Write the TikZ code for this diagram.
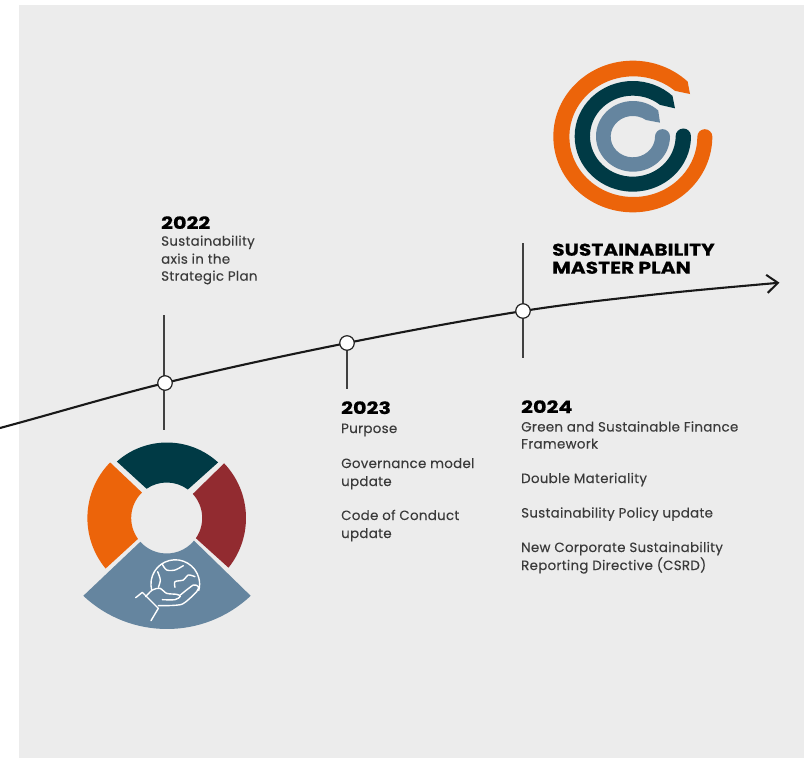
\documentclass[tikz,border=0pt]{standalone}
\usepackage{fontspec}
\setmainfont{Poppins}
\newfontfamily\bodyface{Poppins}[LetterSpace=2.2,FakeBold=0.12]
\newfontfamily\yearface{Poppins Bold}[FakeStretch=1.22,FakeBold=0.4]
\newfontfamily\headface{Poppins Bold}[FakeStretch=1.19,FakeBold=0.4]
\usetikzlibrary{arrows.meta}
\definecolor{bgc}{HTML}{ECECEC}
\definecolor{dk}{HTML}{003A45}
\definecolor{org}{HTML}{EC640A}
\definecolor{rd}{HTML}{922B30}
\definecolor{bl}{HTML}{65859F}
\definecolor{txt}{HTML}{3A3A3A}
\tikzset{
  body/.style={anchor=base west,inner sep=0pt,text=txt,font=\bodyface\fontsize{13.4}{16}\selectfont},
  yearlab/.style={anchor=base west,inner sep=0pt,text=black,font=\yearface\fontsize{17}{20}\selectfont},
  headlab/.style={anchor=base west,inner sep=0pt,text=black,font=\headface\fontsize{17}{20}\selectfont},
  milestone/.style={circle,draw=black!85,fill=white,line width=1.2pt,minimum size=14.5pt,inner sep=0pt},
  tick/.style={draw=black!75,line width=1.1pt},
  icon/.style={draw=white,line width=1.4pt,line cap=round,line join=round}
}
\newcommand{\ringwedge}[8]{%
  \fill[#1] ({#2+#4*cos(#5)},{#3+#4*sin(#5)}) arc[start angle=#5,end angle=#6,radius=#4]
    -- ({166.7+35.5*cos(#7)},{518+35.5*sin(#7)}) arc[start angle=#7,end angle=#8,radius=35.5] -- cycle;}
\begin{document}
\begin{tikzpicture}[x=1pt,y=1pt,yscale=-1]
\useasboundingbox (0,0) rectangle (807,764);
\fill[white] (0,0) rectangle (807,764);
\fill[bgc] (19,5) rectangle (804,758);

% timeline
\coordinate (start) at (0,428);
\coordinate (p22) at (165,383);
\coordinate (p23) at (347,343);
\coordinate (p24) at (523,311);
\coordinate (via) at (650,295);
\coordinate (tip) at (779.5,282.7);
\coordinate (t22a) at (164,315); \coordinate (t22b) at (164,430);
\coordinate (t23b) at (347,389);
\coordinate (t24a) at (523,243); \coordinate (t24b) at (523,358);
\draw[tick] (t22a) -- (t22b);
\draw[tick] (p23) -- (t23b);
\draw[tick] (t24a) -- (t24b);
\draw[black!90,line width=2.1pt,-{Straight Barb[length=11pt,width=18pt,line width=2pt]}]
  (start) .. controls (55,413.2) and (110,396.5) .. (p22)
  .. controls (225.7,368.1) and (286.3,355.2) .. (p23)
  .. controls (405.7,331.2) and (464.3,320.3) .. (p24)
  .. controls (565.3,304.3) and (607.7,299.65) .. (via)
  .. controls (693.2,290.25) and (736.3,286.6) .. (tip);
\node[milestone] (m22) at (p22) {};
\node[milestone] (m23) at (p23) {};
\node[milestone] (m24) at (p24) {};

% texts
\node[yearlab] (y22) at (161,229) {2022};
\node[body] (a1) at (161,245.7) {Sustainability};
\node[body] (a2) at (161,263.7) {axis in the};
\node[body] (a3) at (161,280.7) {Strategic Plan};

\node[yearlab] (y23) at (341,414) {2023};
\node[body] (b1) at (341,433) {Purpose};
\node[body] (b2) at (341,468) {Governance model};
\node[body] (b3) at (341,486) {update};
\node[body] (b4) at (341,520) {Code of Conduct};
\node[body] (b5) at (341,538) {update};

\node[yearlab] (y24) at (521,413) {2024};
\node[body] (c1) at (521,431.5) {Green and Sustainable Finance};
\node[body] (c2) at (521,448.5) {Framework};
\node[body] (c3) at (521,483) {Double Materiality};
\node[body] (c4) at (521,517.5) {Sustainability Policy update};
\node[body] (c5) at (521,552) {New Corporate Sustainability};
\node[body] (c6) at (521,570) {Reporting Directive (CSRD)};

\node[headlab] (h1) at (552,255.7) {SUSTAINABILITY};
\node[headlab] (h2) at (552,273.7) {MASTER PLAN};

% wheel
\ringwedge{dk}{167}{518}{75.5}{-131.6}{-47.4}{-53.4}{-124.5}
\ringwedge{org}{166.7}{518}{79.3}{224.5}{140.4}{144}{225.8}
\ringwedge{rd}{166.7}{518}{79.3}{-43.6}{38.8}{34.7}{-42.7}
\ringwedge{bl}{167}{507}{122}{133.3}{46.7}{39.7}{138}

% icon
\begin{scope}[shift={(125,555)},scale=1/3]
  \draw[icon] (80,105) arc[start angle=166,end angle=375,radius=73];
  \draw[icon] plot[smooth] coordinates {(112,28) (125,45) (150,45) (175,32)};
  \draw[icon] plot[smooth] coordinates {(98,50) (106,75) (100,97)};
  \draw[icon] plot[smooth] coordinates {(150,97) (150,80) (175,75) (190,60) (210,65)};
  \draw[icon] (32,128) -- (52,112) -- (100,160) -- (78,197);
  \draw[icon] plot[smooth,tension=.5] coordinates {(62,125) (82,105) (105,100) (125,115) (155,118) (166,124) (150,134) (112,134)};
  \draw[icon] plot[smooth,tension=.4] coordinates {(166,120) (205,90) (220,95) (215,110) (170,148) (100,152)};
\end{scope}

% logo
\begin{scope}[shift={(540,50)},scale=1/3]
  \fill[org] (517,259.5) arc[start angle=0,end angle=313.6,x radius=238.5,y radius=227.5]
    -- (450,132) -- (405,122.6) arc[start angle=310.6,end angle=0,x radius=192,y radius=181]
    arc[start angle=180,end angle=360,radius=22.5] -- cycle;
  \fill[dk] (453,259) arc[start angle=0,end angle=313,x radius=174.5,y radius=166]
    -- (405,175) -- (360,164.6) arc[start angle=309.4,end angle=0,x radius=128.5,y radius=121.5]
    arc[start angle=180,end angle=360,radius=23] -- cycle;
  \fill[bl] (390,259) arc[start angle=0,end angle=313,x radius=111,y radius=106]
    -- (360,218) -- (318,210) arc[start angle=306.4,end angle=0,x radius=66.5,y radius=62]
    arc[start angle=180,end angle=360,radius=22.5] -- cycle;
\end{scope}
\end{tikzpicture}
\end{document}
